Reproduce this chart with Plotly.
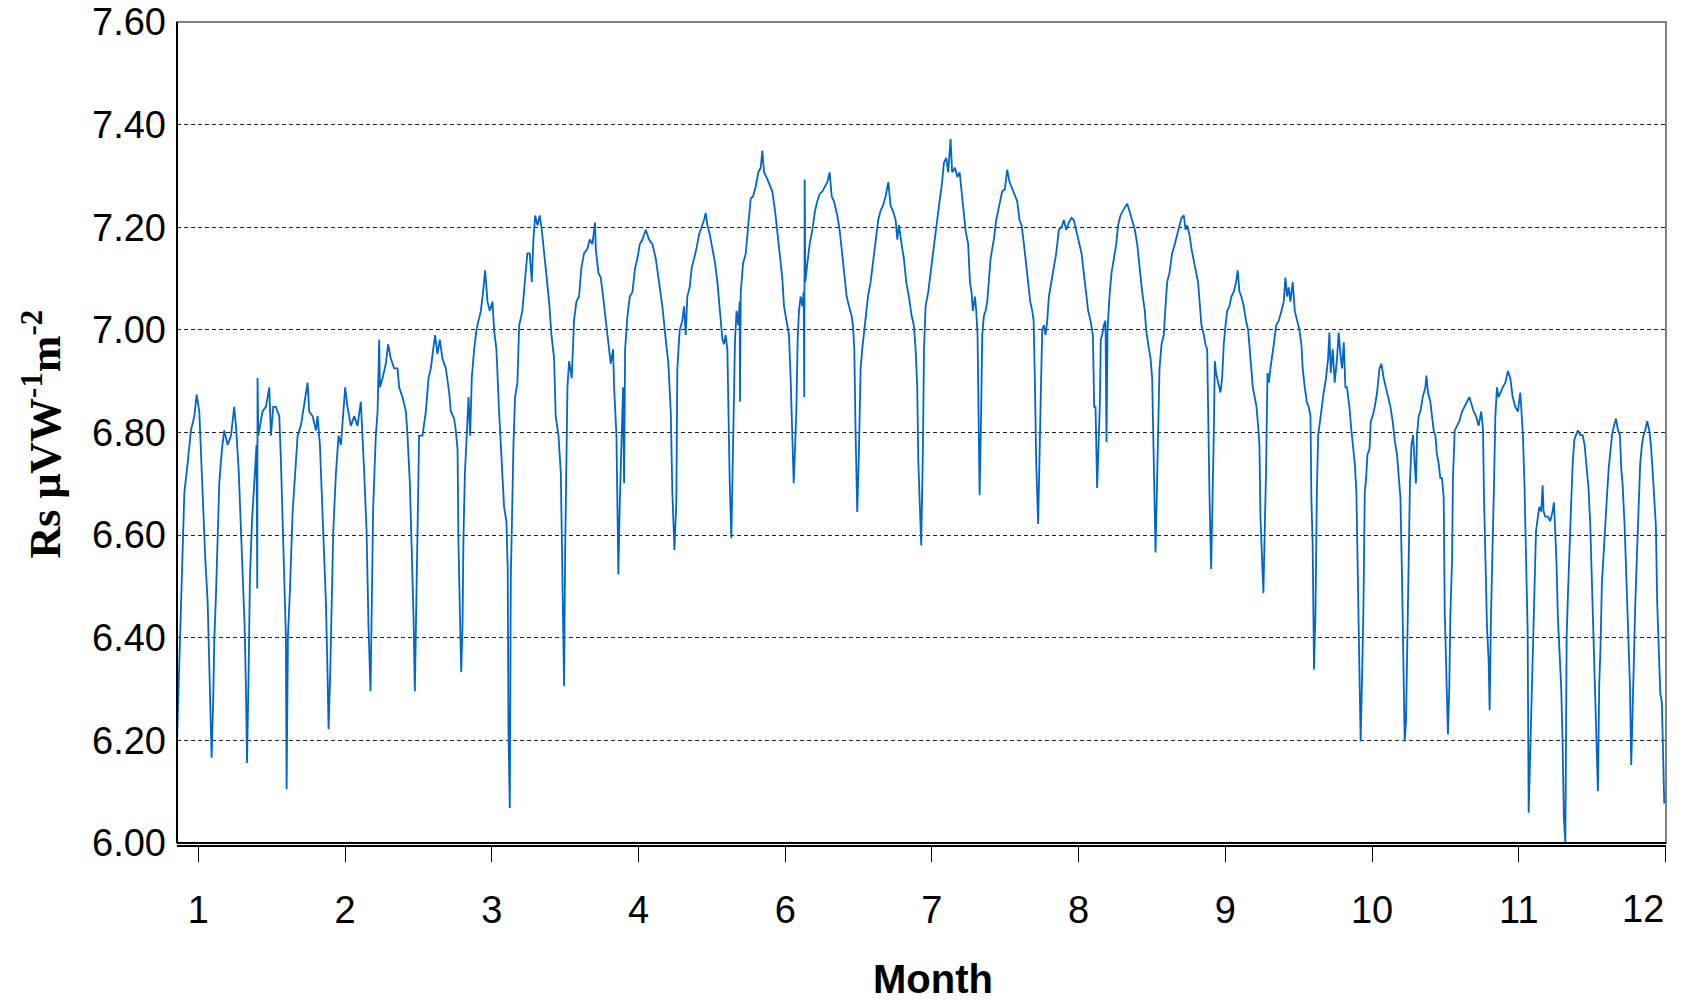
import plotly.graph_objects as go

# Axis positions of the month ticks and their labels
month_ticks = [1, 2, 3, 4, 5, 6, 7, 8, 9, 10, 11]
month_labels = ["1", "2", "3", "4", "6", "7", "8", "9", "10", "11", "12"]

# Rs sensitivity record, split into consecutive stretches (position on month axis, value)
pos_a = [0.856, 0.871, 0.889, 0.905, 0.927, 0.950, 0.973, 0.989, 1.007, 1.018, 1.034, 1.048, 1.064, 1.075,
         1.086, 1.091, 1.102, 1.109, 1.120, 1.132, 1.143, 1.161, 1.177, 1.200, 1.223, 1.245, 1.257, 1.275,
         1.286, 1.302, 1.316, 1.325, 1.332, 1.343, 1.352, 1.366, 1.381, 1.397, 1.402, 1.404, 1.409, 1.438,
         1.461, 1.484, 1.495, 1.511, 1.529, 1.552, 1.563, 1.574, 1.586, 1.597, 1.602, 1.611, 1.624, 1.643,
         1.661, 1.677, 1.699, 1.722, 1.745, 1.756, 1.779, 1.802, 1.813, 1.829, 1.842, 1.858, 1.870, 1.881,
         1.888, 1.899, 1.911, 1.920, 1.938, 1.956, 1.972, 1.988, 2.001, 2.017, 2.040, 2.063, 2.085, 2.108,
         2.119, 2.131, 2.147, 2.160, 2.174, 2.183, 2.192, 2.210, 2.222, 2.233, 2.238, 2.256, 2.278, 2.294,
         2.312, 2.335, 2.358, 2.369, 2.392, 2.415, 2.426, 2.442, 2.456, 2.467, 2.476, 2.487, 2.496, 2.505,
         2.528]
rs_a = [6.208, 6.347, 6.552, 6.683, 6.739, 6.804, 6.832, 6.874, 6.841, 6.757, 6.673, 6.552, 6.469, 6.347,
        6.226, 6.166, 6.282, 6.394, 6.478, 6.590, 6.701, 6.767, 6.804, 6.776, 6.794, 6.850, 6.813, 6.729,
        6.655, 6.524, 6.422, 6.301, 6.156, 6.329, 6.515, 6.627, 6.701, 6.776, 6.496, 6.906, 6.794, 6.841,
        6.850, 6.888, 6.794, 6.850, 6.850, 6.832, 6.748, 6.655, 6.515, 6.403, 6.105, 6.403, 6.487, 6.645,
        6.720, 6.794, 6.813, 6.860, 6.897, 6.841, 6.832, 6.804, 6.832, 6.776, 6.683, 6.562, 6.469, 6.329,
        6.222, 6.329, 6.469, 6.608, 6.720, 6.794, 6.776, 6.841, 6.888, 6.850, 6.813, 6.832, 6.813, 6.860,
        6.804, 6.720, 6.608, 6.422, 6.296, 6.515, 6.655, 6.794, 6.841, 6.981, 6.888, 6.906, 6.934, 6.972,
        6.944, 6.925, 6.925, 6.888, 6.869, 6.841, 6.794, 6.701, 6.580, 6.441, 6.296, 6.469, 6.608, 6.794,
        6.794]

pos_b = [2.551, 2.569, 2.585, 2.601, 2.614, 2.630, 2.646, 2.664, 2.687, 2.710, 2.721, 2.744, 2.755, 2.767,
         2.773, 2.783, 2.792, 2.801, 2.807, 2.817, 2.828, 2.842, 2.853, 2.864, 2.880, 2.896, 2.910, 2.926,
         2.941, 2.955, 2.971, 2.987, 3.005, 3.016, 3.032, 3.041, 3.050, 3.062, 3.073, 3.084, 3.100, 3.109,
         3.114, 3.123, 3.130, 3.137, 3.148, 3.159, 3.175, 3.187, 3.209, 3.228, 3.243, 3.259, 3.273, 3.284,
         3.296, 3.312, 3.327, 3.341, 3.357, 3.375, 3.391, 3.407, 3.425, 3.436, 3.455, 3.471, 3.477, 3.486,
         3.493, 3.500, 3.509, 3.516, 3.527, 3.545, 3.561, 3.577, 3.595, 3.611, 3.629, 3.652, 3.668, 3.686,
         3.704, 3.709, 3.727, 3.743, 3.759, 3.777, 3.795, 3.811, 3.827, 3.834, 3.850, 3.857, 3.863, 3.872,
         3.884, 3.895, 3.902, 3.909, 3.925, 3.941, 3.959, 3.977, 3.993, 4.009, 4.027, 4.050, 4.072, 4.095,
         4.118, 4.140, 4.163, 4.186, 4.204, 4.220, 4.231, 4.245]
rs_b = [6.841, 6.906, 6.925, 6.962, 6.990, 6.953, 6.981, 6.944, 6.925, 6.878, 6.841, 6.827, 6.804, 6.767,
        6.590, 6.450, 6.333, 6.422, 6.590, 6.720, 6.794, 6.869, 6.794, 6.906, 6.962, 7.000, 7.018, 7.037,
        7.074, 7.116, 7.055, 7.037, 7.055, 7.000, 6.962, 6.888, 6.841, 6.776, 6.711, 6.655, 6.627, 6.534,
        6.217, 6.068, 6.515, 6.645, 6.776, 6.869, 6.897, 7.009, 7.037, 7.102, 7.149, 7.149, 7.093, 7.176,
        7.223, 7.204, 7.223, 7.195, 7.149, 7.111, 7.055, 6.990, 6.944, 6.832, 6.794, 6.720, 6.608, 6.422,
        6.306, 6.562, 6.720, 6.888, 6.939, 6.906, 7.018, 7.055, 7.065, 7.121, 7.149, 7.158, 7.176, 7.167,
        7.209, 7.158, 7.111, 7.102, 7.065, 7.018, 6.981, 6.934, 6.962, 6.888, 6.794, 6.683, 6.524, 6.655,
        6.804, 6.888, 6.701, 6.962, 7.027, 7.065, 7.074, 7.121, 7.139, 7.167, 7.176, 7.195, 7.176, 7.167,
        7.139, 7.093, 7.046, 6.981, 6.934, 6.841, 6.683, 6.571]

pos_c = [4.258, 4.265, 4.281, 4.299, 4.311, 4.322, 4.333, 4.349, 4.363, 4.379, 4.395, 4.413, 4.431, 4.447,
         4.458, 4.470, 4.486, 4.504, 4.522, 4.538, 4.549, 4.560, 4.572, 4.583, 4.594, 4.606, 4.613, 4.622,
         4.633, 4.640, 4.651, 4.658, 4.669, 4.681, 4.690, 4.692, 4.697, 4.713, 4.731, 4.747, 4.765, 4.781,
         4.799, 4.817, 4.833, 4.844, 4.856, 4.872, 4.890, 4.912, 4.931, 4.946, 4.962, 4.980, 4.992, 5.003,
         5.015, 5.026, 5.037, 5.049, 5.058, 5.067, 5.076, 5.085, 5.094, 5.105, 5.117, 5.126, 5.130, 5.133,
         5.137, 5.151, 5.167, 5.185, 5.203, 5.219, 5.235, 5.253, 5.271, 5.287, 5.303, 5.317, 5.332, 5.355,
         5.371, 5.389, 5.405, 5.419, 5.435, 5.453, 5.462, 5.471, 5.480, 5.491, 5.503, 5.514, 5.525, 5.537,
         5.548, 5.564, 5.582, 5.598, 5.616, 5.634, 5.650, 5.666, 5.684, 5.703, 5.718, 5.734, 5.753, 5.764,
         5.775, 5.787, 5.798, 5.809, 5.825, 5.843, 5.862, 5.877, 5.889, 5.900, 5.907, 5.918, 5.927]
rs_c = [6.664, 6.925, 7.000, 7.018, 7.046, 6.990, 7.065, 7.083, 7.121, 7.139, 7.158, 7.186, 7.200, 7.214,
        7.228, 7.204, 7.186, 7.158, 7.130, 7.093, 7.055, 7.009, 6.981, 6.972, 6.990, 6.962, 6.841, 6.701,
        6.594, 6.701, 6.841, 6.981, 7.037, 7.009, 7.055, 6.860, 7.074, 7.130, 7.149, 7.195, 7.256, 7.260,
        7.279, 7.307, 7.316, 7.349, 7.307, 7.298, 7.284, 7.270, 7.232, 7.195, 7.149, 7.102, 7.046, 7.027,
        7.009, 6.990, 6.906, 6.767, 6.701, 6.767, 6.841, 6.981, 7.037, 7.065, 7.046, 7.074, 6.869, 7.293,
        7.093, 7.130, 7.167, 7.195, 7.232, 7.251, 7.265, 7.270, 7.279, 7.288, 7.307, 7.260, 7.251, 7.223,
        7.195, 7.149, 7.102, 7.065, 7.046, 7.027, 7.009, 6.962, 6.795, 6.645, 6.767, 6.925, 6.962, 6.990,
        7.027, 7.065, 7.093, 7.130, 7.167, 7.214, 7.232, 7.242, 7.260, 7.288, 7.242, 7.232, 7.214, 7.176,
        7.204, 7.176, 7.158, 7.139, 7.093, 7.065, 7.027, 7.009, 6.962, 6.888, 6.748, 6.655, 6.580]

pos_d = [5.939, 5.946, 5.957, 5.975, 5.991, 6.007, 6.020, 6.036, 6.052, 6.066, 6.082, 6.098, 6.111, 6.127,
         6.138, 6.157, 6.173, 6.189, 6.202, 6.218, 6.229, 6.247, 6.259, 6.270, 6.279, 6.293, 6.302, 6.311,
         6.320, 6.325, 6.334, 6.343, 6.354, 6.366, 6.377, 6.388, 6.400, 6.411, 6.422, 6.438, 6.452, 6.468,
         6.479, 6.497, 6.513, 6.529, 6.547, 6.565, 6.581, 6.597, 6.611, 6.627, 6.643, 6.656, 6.670, 6.684,
         6.693, 6.702, 6.711, 6.724, 6.733, 6.743, 6.752, 6.763, 6.774, 6.786, 6.797, 6.813, 6.831, 6.847,
         6.865, 6.883, 6.899, 6.915, 6.933, 6.951, 6.967, 6.983, 7.001, 7.020, 7.035, 7.051, 7.065, 7.081,
         7.097, 7.106, 7.115, 7.126, 7.138, 7.144, 7.151, 7.160, 7.172, 7.183, 7.190, 7.197, 7.210, 7.224,
         7.240, 7.256, 7.269, 7.285, 7.301, 7.319, 7.331, 7.346, 7.365, 7.383, 7.399, 7.415, 7.433, 7.451,
         7.460, 7.474, 7.490, 7.501, 7.512, 7.524, 7.533, 7.542, 7.551, 7.565, 7.580, 7.592, 7.603, 7.619,
         7.637, 7.655, 7.671]
rs_d = [6.776, 6.962, 7.046, 7.074, 7.111, 7.149, 7.176, 7.223, 7.251, 7.279, 7.326, 7.335, 7.307, 7.372,
        7.307, 7.316, 7.298, 7.307, 7.270, 7.232, 7.195, 7.167, 7.093, 7.074, 7.037, 7.065, 7.037, 6.990,
        6.813, 6.678, 6.813, 6.990, 7.027, 7.037, 7.055, 7.093, 7.139, 7.158, 7.176, 7.214, 7.232, 7.251,
        7.270, 7.274, 7.312, 7.288, 7.274, 7.260, 7.251, 7.214, 7.204, 7.167, 7.121, 7.083, 7.055, 7.037,
        7.018, 6.897, 6.739, 6.622, 6.776, 6.888, 7.000, 7.009, 6.990, 7.018, 7.065, 7.093, 7.121, 7.149,
        7.195, 7.200, 7.214, 7.195, 7.209, 7.218, 7.214, 7.195, 7.176, 7.149, 7.111, 7.074, 7.037, 7.018,
        6.990, 6.850, 6.850, 6.692, 6.795, 6.850, 6.981, 6.990, 7.009, 7.018, 6.781, 7.000, 7.065, 7.111,
        7.139, 7.167, 7.204, 7.223, 7.232, 7.242, 7.246, 7.232, 7.214, 7.195, 7.167, 7.121, 7.074, 7.037,
        7.000, 6.972, 6.944, 6.906, 6.720, 6.566, 6.683, 6.795, 6.925, 6.972, 6.990, 7.046, 7.093, 7.111,
        7.149, 7.167, 7.186]

pos_e = [7.687, 7.701, 7.717, 7.728, 7.739, 7.755, 7.769, 7.785, 7.801, 7.814, 7.826, 7.837, 7.853, 7.864,
         7.876, 7.882, 7.892, 7.903, 7.914, 7.921, 7.928, 7.937, 7.951, 7.967, 7.978, 7.989, 8.001, 8.012,
         8.028, 8.041, 8.057, 8.073, 8.084, 8.096, 8.109, 8.125, 8.141, 8.155, 8.166, 8.178, 8.187, 8.200,
         8.212, 8.223, 8.232, 8.239, 8.250, 8.259, 8.268, 8.277, 8.287, 8.296, 8.307, 8.318, 8.330, 8.346,
         8.364, 8.382, 8.398, 8.409, 8.421, 8.432, 8.443, 8.459, 8.473, 8.489, 8.505, 8.518, 8.527, 8.541,
         8.555, 8.568, 8.580, 8.586, 8.595, 8.604, 8.614, 8.623, 8.632, 8.641, 8.655, 8.670, 8.686, 8.700,
         8.709, 8.718, 8.732, 8.745, 8.761, 8.772, 8.784, 8.795, 8.807, 8.818, 8.829, 8.845, 8.859, 8.870,
         8.882, 8.893, 8.904, 8.913, 8.922, 8.932, 8.941, 8.950, 8.959, 8.968, 8.982, 8.991, 9.004, 9.018,
         9.034, 9.050, 9.063, 9.079, 9.095, 9.109, 9.125, 9.140, 9.154, 9.170, 9.181, 9.193, 9.204, 9.213,
         9.222, 9.231, 9.240, 9.249, 9.258, 9.268, 9.279, 9.290, 9.299, 9.306, 9.317]
rs_e = [7.204, 7.218, 7.223, 7.195, 7.204, 7.186, 7.158, 7.130, 7.111, 7.093, 7.046, 7.009, 6.990, 6.972,
        6.962, 6.832, 6.673, 6.534, 6.673, 6.795, 6.939, 6.916, 6.897, 6.878, 6.906, 6.972, 7.009, 7.037,
        7.046, 7.065, 7.074, 7.093, 7.116, 7.074, 7.065, 7.046, 7.018, 7.000, 6.962, 6.925, 6.888, 6.869,
        6.850, 6.813, 6.776, 6.636, 6.552, 6.487, 6.608, 6.720, 6.916, 6.897, 6.925, 6.944, 6.972, 7.009,
        7.018, 7.037, 7.055, 7.102, 7.065, 7.083, 7.055, 7.093, 7.037, 7.018, 7.000, 6.972, 6.925, 6.888,
        6.860, 6.850, 6.832, 6.673, 6.580, 6.338, 6.450, 6.673, 6.795, 6.813, 6.850, 6.878, 6.906, 6.944,
        6.995, 6.916, 6.962, 6.897, 6.944, 6.995, 6.953, 6.925, 6.976, 6.888, 6.888, 6.850, 6.804, 6.767,
        6.739, 6.683, 6.496, 6.357, 6.198, 6.329, 6.459, 6.683, 6.711, 6.757, 6.767, 6.822, 6.832, 6.850,
        6.878, 6.925, 6.934, 6.906, 6.888, 6.869, 6.850, 6.822, 6.785, 6.757, 6.720, 6.673, 6.515, 6.310,
        6.198, 6.236, 6.413, 6.543, 6.701, 6.776, 6.795, 6.739, 6.701, 6.795, 6.832]

pos_f = [9.329, 9.345, 9.363, 9.370, 9.381, 9.397, 9.408, 9.420, 9.431, 9.442, 9.454, 9.465, 9.476, 9.488,
         9.495, 9.504, 9.517, 9.526, 9.533, 9.545, 9.551, 9.563, 9.579, 9.595, 9.613, 9.631, 9.647, 9.663,
         9.676, 9.692, 9.708, 9.726, 9.744, 9.756, 9.762, 9.774, 9.783, 9.794, 9.801, 9.810, 9.822, 9.831,
         9.840, 9.851, 9.862, 9.874, 9.890, 9.908, 9.926, 9.942, 9.958, 9.976, 9.994, 10.010, 10.021, 10.028,
         10.039, 10.049, 10.060, 10.067, 10.076, 10.085, 10.096, 10.108, 10.117, 10.130, 10.139, 10.153,
         10.162, 10.169, 10.180, 10.198, 10.214, 10.230, 10.239, 10.248, 10.257, 10.266, 10.276, 10.289,
         10.298, 10.307, 10.317, 10.326, 10.335, 10.346, 10.358, 10.367, 10.378, 10.389, 10.403, 10.419,
         10.435, 10.448, 10.464, 10.475, 10.487, 10.498, 10.510, 10.521, 10.532, 10.539, 10.548, 10.557,
         10.566, 10.578, 10.589, 10.600, 10.612, 10.623, 10.635, 10.648, 10.662, 10.676, 10.689, 10.698,
         10.707, 10.721, 10.734, 10.748, 10.757, 10.766, 10.775, 10.784, 10.793, 10.805, 10.816, 10.827,
         10.839, 10.850, 10.861, 10.875, 10.889, 10.900, 10.911, 10.925, 10.934, 10.943, 10.952, 10.964,
         10.975, 10.982, 10.991]
rs_f = [6.841, 6.869, 6.888, 6.911, 6.878, 6.860, 6.832, 6.804, 6.795, 6.757, 6.739, 6.711, 6.711, 6.673,
        6.450, 6.366, 6.212, 6.301, 6.441, 6.552, 6.711, 6.804, 6.813, 6.822, 6.841, 6.850, 6.860, 6.869,
        6.855, 6.841, 6.832, 6.813, 6.841, 6.804, 6.683, 6.524, 6.422, 6.357, 6.259, 6.441, 6.571, 6.701,
        6.832, 6.888, 6.869, 6.878, 6.888, 6.897, 6.920, 6.906, 6.869, 6.850, 6.841, 6.878, 6.832, 6.795,
        6.692, 6.543, 6.413, 6.059, 6.161, 6.282, 6.394, 6.524, 6.608, 6.636, 6.655, 6.646,
        6.697, 6.646, 6.636, 6.636, 6.627, 6.646, 6.664, 6.608, 6.543, 6.441, 6.375, 6.301,
        6.198, 6.049, 6.000, 6.403, 6.487, 6.590, 6.673, 6.739, 6.785, 6.795, 6.804, 6.795,
        6.795, 6.776, 6.720, 6.692, 6.618, 6.506, 6.394, 6.301, 6.143, 6.101, 6.310, 6.385,
        6.506, 6.571, 6.636, 6.673, 6.729, 6.757, 6.795, 6.813, 6.827, 6.804, 6.795, 6.729,
        6.701, 6.618, 6.506, 6.422, 6.310, 6.152, 6.273, 6.385, 6.459, 6.562, 6.655, 6.739,
        6.776, 6.795, 6.804, 6.822, 6.804, 6.776, 6.729, 6.673, 6.618, 6.469, 6.385, 6.292,
        6.273, 6.189, 6.077]

positions = pos_a + pos_b + pos_c + pos_d + pos_e + pos_f
rs_values = rs_a + rs_b + rs_c + rs_d + rs_e + rs_f

fig = go.Figure()
fig.add_trace(go.Scatter(
    x=positions, y=rs_values, mode="lines",
    line=dict(color="rgb(0,102,204)", width=1.8),
    hoverinfo="skip", showlegend=False,
))

axis_font = dict(family="Liberation Sans, Arial, sans-serif", size=38, color="black")

# The last month label sits at the right edge of the frame, so it is placed
# right-aligned there instead of centred on its tick.
tick_text_drawn = month_labels[:-1] + [""]

fig.update_layout(
    width=1681, height=1000,
    margin=dict(l=177, r=15, t=22, b=154, autoexpand=False),
    paper_bgcolor="white", plot_bgcolor="white",
    xaxis=dict(
        range=[0.855, 11.003], tickmode="array", tickvals=month_ticks, ticktext=tick_text_drawn,
        ticks="outside", ticklen=15, tickwidth=1.2, tickcolor="black",
        showline=True, linecolor="black", linewidth=2,
        anchor="free", position=0, automargin=False,
        showgrid=False, zeroline=False,
        tickfont=axis_font, ticklabelstandoff=15,
    ),
    yaxis=dict(
        domain=[0.0036, 1], range=[6.0, 7.6], dtick=0.2, tick0=6.0, tickformat=".2f",
        showgrid=True, gridcolor="#222222", gridwidth=1, griddash="4px,3px",
        zeroline=False, showline=False, ticks="", automargin=False,
        tickfont=axis_font, ticklabelstandoff=10,
    ),
    annotations=[
        dict(text="Rs μVW<sup>-1</sup>m<sup>-2</sup>", textangle=-90,
             xref="paper", yref="paper", x=-0.091, y=0.5, xanchor="center", yanchor="middle",
             showarrow=False,
             font=dict(family="Liberation Serif, Times New Roman, serif", size=44, color="black", weight="bold")),
        dict(text="<b>Month</b>", xref="paper", yref="paper", x=0.508, y=-0.162,
             xanchor="center", yanchor="middle", showarrow=False,
             font=dict(family="Liberation Sans, Arial, sans-serif", size=40, color="black")),
        dict(text=month_labels[-1], xref="x domain", yref="paper", x=1.0, y=-0.0765,
             xanchor="right", yanchor="middle", showarrow=False, font=axis_font),
    ],
    shapes=[
        dict(type="rect", xref="x domain", yref="y domain", x0=0, x1=1, y0=0, y1=1,
             line=dict(color="#555555", width=1.5), layer="above"),
        dict(type="line", xref="x domain", yref="y domain", x0=0, x1=0, y0=0, y1=1,
             line=dict(color="black", width=2), layer="above"),
        dict(type="line", xref="x domain", yref="y domain", x0=0, x1=1, y0=0, y1=0,
             line=dict(color="black", width=2), layer="above"),
    ],
)

fig.write_html("out.html")
